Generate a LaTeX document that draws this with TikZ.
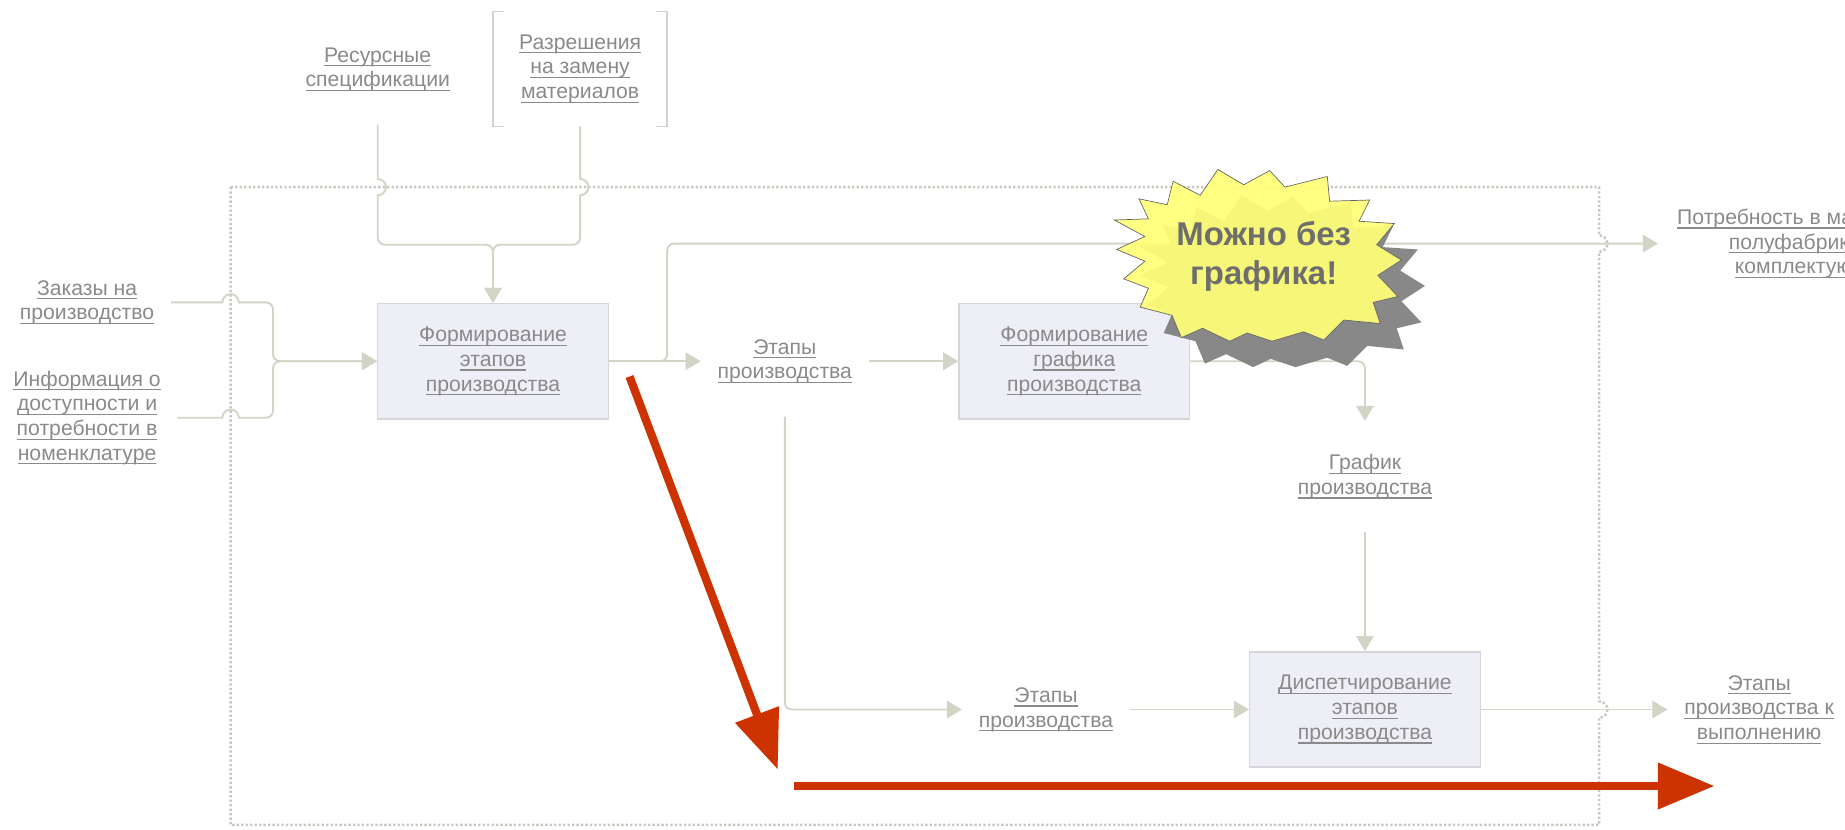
\documentclass[tikz,border=0pt]{standalone}
\usepackage{fontspec}
\setmainfont{Liberation Sans}
\usetikzlibrary{arrows.meta}

\definecolor{lnkgray}{HTML}{8A8A8A}
\definecolor{wirec}{HTML}{D3D3C6}
\definecolor{boxfill}{HTML}{EEEEF6}
\definecolor{boxedge}{HTML}{D6D6DA}
\definecolor{framec}{HTML}{C8C8C0}
\definecolor{bracketc}{HTML}{D2D2D2}
\definecolor{burst}{HTML}{FFFF77}
\definecolor{burstshade}{HTML}{7F7F7F}
\definecolor{bursttext}{HTML}{6E6E6E}
\definecolor{markred}{HTML}{CC3300}

% underlined hyperlink-like label line
\newcommand\lnk[1]{\leavevmode\setbox0=\hbox{#1}\rlap{\rule[-1.8pt]{\wd0}{0.5pt}}\box0}

\tikzset{
  lbl/.style={font=\fontsize{9pt}{10.5pt}\selectfont, text=lnkgray, align=center,
    inner xsep=7pt, inner ysep=14pt},
  proc/.style={draw=boxedge, fill=boxfill, line width=0.6pt, minimum width=98pt,
    minimum height=49pt, inner sep=2pt, font=\fontsize{9pt}{10.5pt}\selectfont,
    text=lnkgray, align=center},
  wire/.style={draw=wirec, line width=0.8pt},
  tip/.style={-{Triangle[length=6.4pt,width=7.4pt]}},
  boundary/.style={draw=framec, line width=1.1pt, dash pattern=on 1pt off 0.9pt},
  pics/burst/.style={code={
    \path[pic actions] (968,169) -- (992,174) -- (997,154) -- (1020,166) -- (1035,144)
      -- (1057,157) -- (1079,145) -- (1092,159) -- (1128,150) -- (1130,171) -- (1164,170)
      -- (1155,188) -- (1185,190) -- (1170,208) -- (1191,221) -- (1171,234) -- (1188,252)
      -- (1167,257) -- (1173,275) -- (1142,272) -- (1125,289) -- (1108,282) -- (1081,290)
      -- (1060,283) -- (1045,290) -- (1022,279) -- (1004,287) -- (996,268) -- (969,261)
      -- (976,245) -- (955,237) -- (973,222) -- (949,212) -- (973,201) -- (947,187)
      -- (976,186) -- cycle;
  }},
}

\begin{document}
\begin{tikzpicture}[x=0.5pt,y=-0.5pt]
\useasboundingbox (0,0) rectangle (1568,705);
\clip (0,0) rectangle (1568,705);

% context frame of the process, with jumps where outputs leave it
\draw[boundary] (196,159) -- (1359,159) -- (1359,200)
  arc[start angle=-90,end angle=90,radius=7] -- (1359,596)
  arc[start angle=-90,end angle=90,radius=7] -- (1359,701) -- (196,701) -- cycle;

% inputs and outputs
\node[lbl] (zak) at (74,257) {\lnk{Заказы на}\\\lnk{производство}};
\node[lbl] (inf) at (74,355) {\lnk{Информация о}\\\lnk{доступности и}\\\lnk{потребности в}\\\lnk{номенклатуре}};
\node[lbl] (res) at (321,59) {\lnk{Ресурсные}\\\lnk{спецификации}};
\node[lbl, minimum width=73.5pt, minimum height=48.5pt, inner ysep=0pt] (razr) at (493,58.5)
  {\lnk{Разрешения}\\\lnk{на замену}\\\lnk{материалов}};
\node[lbl] (et1) at (667,307) {\lnk{Этапы}\\\lnk{производства}};
\node[lbl] (graf) at (1160,405) {\lnk{График}\\\lnk{производства}};
\node[lbl] (et2) at (889,603) {\lnk{Этапы}\\\lnk{производства}};
\node[lbl] (etv) at (1495,603) {\lnk{Этапы}\\\lnk{производства к}\\\lnk{выполнению}};
\node[lbl, anchor=west, inner xsep=8pt] (potr) at (1409,207)
  {\lnk{Потребность в материалах,}\\\lnk{полуфабрикатах,}\\\lnk{комплектующих}};

% bracket round the optional input
\draw[bracketc, line width=0.6pt] ([xshift=4.5pt]razr.north west) -- (razr.north west)
  -- (razr.south west) -- ([xshift=4.5pt]razr.south west);
\draw[bracketc, line width=0.6pt] ([xshift=-4.5pt]razr.north east) -- (razr.north east)
  -- (razr.south east) -- ([xshift=-4.5pt]razr.south east);

% processes
\node[proc] (box1) at (419,307) {\lnk{Формирование}\\\lnk{этапов}\\\lnk{производства}};
\node[proc] (box2) at (913,307) {\lnk{Формирование}\\\lnk{графика}\\\lnk{производства}};
\node[proc] (box3) at (1160,603) {\lnk{Диспетчирование}\\\lnk{этапов}\\\lnk{производства}};

% flows
\draw[wire,tip] (zak.east) -- (189,257) arc[start angle=180,end angle=360,radius=7]
  [rounded corners=3pt] -- (232,257) -- (232,307) -- (box1.west);
\draw[wire,tip] (inf.east) -- (189,355) arc[start angle=180,end angle=360,radius=7]
  [rounded corners=3pt] -- (232,355) -- (232,307) -- (box1.west);
\draw[wire,tip] (res.south) -- (321,152) arc[start angle=-90,end angle=90,radius=7]
  [rounded corners=3pt] -- (321,208) -- (419,208) -- (box1.north);
\draw[wire,tip] (razr.south) -- (493,152) arc[start angle=-90,end angle=90,radius=7]
  [rounded corners=3pt] -- (493,208) -- (419,208) -- (box1.north);
\draw[wire,tip] (box1.east) -- (et1.west);
\draw[wire,tip,rounded corners=3pt] (box1.east) -- (567,307) -- (567,207) -- (potr.west);
\draw[wire,tip] (et1.east) -- (box2.west);
\draw[wire,tip,rounded corners=3pt] (box2.east) -- (1160,307) -- (graf.north);
\draw[wire,tip] (graf.south) -- (box3.north);
\draw[wire,tip,rounded corners=3pt] (et1.south) -- (667,603) -- (et2.west);
\draw[wire,tip] (et2.east) -- (box3.west);
\draw[wire,tip] (box3.east) -- (etv.west);

% callout
\pic[fill=burstshade, fill opacity=0.93] at (20,22) {burst};
\pic[fill=burst, fill opacity=0.93, draw=black!60, line width=0.3pt] at (0,0) {burst};
\node[font=\fontsize{14pt}{16.5pt}\selectfont\bfseries, text=bursttext, align=center]
  (note) at (1074,218) {Можно без\\графика!};

% red pointers
\coordinate (d1) at (535,320);
\coordinate (d2) at (661,654);
\coordinate (h1) at (675,668);
\coordinate (h2) at (1457,668);
\draw[markred, line width=3.5pt, -{Triangle[length=25pt,width=19pt]}] (d1) -- (d2);
\draw[markred, line width=3.5pt, -{Triangle[length=24pt,width=19pt]}] (h1) -- (h2);
\end{tikzpicture}
\end{document}
